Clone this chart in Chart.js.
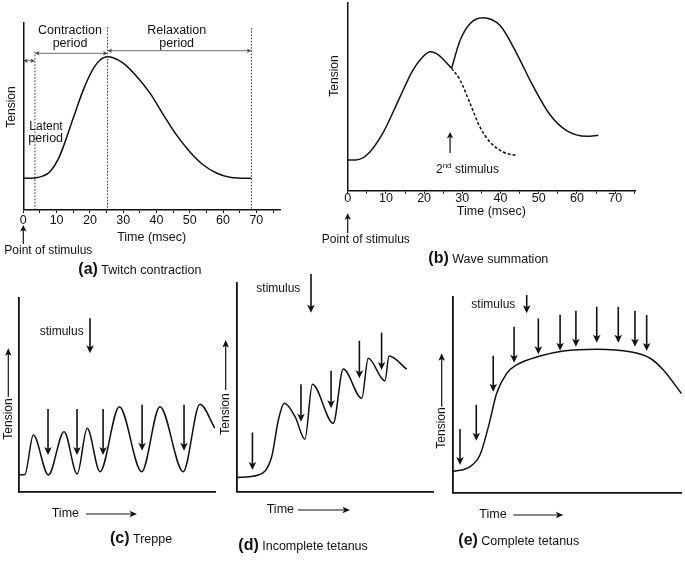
<!DOCTYPE html>
<html><head><meta charset="utf-8">
<script src="https://cdn.jsdelivr.net/npm/chart.js@4.4.1/dist/chart.umd.min.js"></script>
<style>
html,body{margin:0;padding:0;background:#fff;}
body{width:685px;height:561px;position:relative;overflow:hidden;}
canvas{position:absolute;}
</style></head><body>
<canvas id="pa" width="300" height="280" style="left:0px;top:0px"></canvas>
<canvas id="pb" width="385" height="275" style="left:300px;top:0px"></canvas>
<canvas id="pc" width="225" height="281" style="left:0px;top:280px"></canvas>
<canvas id="pd" width="223" height="296" style="left:212px;top:265px"></canvas>
<canvas id="pe" width="255" height="296" style="left:430px;top:265px"></canvas>
<script>
// ---------- data ----------
// (a) Twitch contraction  (time in msec, tension in arbitrary units 0-100)
const twitchTime    = [0, 3.5, 6, 8, 10.5, 12.5, 15, 18, 21, 23, 25.3, 27, 30, 34, 38, 42, 46, 50, 54, 58, 62, 65, 68.5];
const twitchTension = [16.7, 16.9, 18, 20.3, 27, 36, 49, 64, 75.5, 80, 81.9, 81.4, 78.5, 71.5, 62.5, 51, 40, 31, 24, 19.6, 17.3, 16.8, 16.7];
const periodBounds  = [0, 3.5, 25.3, 68.5];   // latent start, contraction start, peak, relaxation end
const timeTicks     = [0, 10, 20, 30, 40, 50, 60, 70];

// (b) Wave summation
const wave1Time     = [0, 2, 5, 9.2, 13.7, 17, 19.5, 21.7, 24, 25.9, 27.2];
const wave1Tension  = [16.4, 16.4, 19, 30.7, 50, 64, 71, 74, 72, 68, 65.2];
const wave2Time     = [27.2, 29.4, 32, 35.3, 39.9, 44.2, 48.6, 53, 57.3, 62.6, 65.6];
const wave2Tension  = [65.2, 80, 89, 92.2, 88, 73.2, 55.4, 40.3, 32, 29, 29.5];
const decayTime     = [27.2, 29.4, 32, 34.6, 37.2, 40.7, 44.2];
const decayTension  = [65.2, 59, 46.7, 34, 26, 20.6, 18.6];
const secondStimTime = 26.8, secondStimLevel = 31.3;

// (c) Treppe (arbitrary time 0-100)
const treppeTime     = [0, 3, 7.3, 15, 23, 29.7, 34.8, 41.3, 51.2, 62.6, 71.9, 83.8, 92.3, 100];
const treppeTension  = [8.8, 9, 29.4, 8.8, 31.1, 9.3, 32.8, 10.5, 44, 10.5, 44, 10.5, 45.2, 32.8];
const treppeStimTime = [14.8, 29.6, 42.9, 62.8, 84.2];
const treppeStimTip  = [19.1, 19.1, 19.1, 21.3, 21.3];

// (d) Incomplete tetanus
const incTime     = [0, 11, 17.8, 21.2, 24.2, 29.7, 34.7, 38.5, 49.1, 54.2, 63.6, 66.9, 75.4, 77.5, 86.5];
const incTension  = [6.8, 8, 16.7, 34.3, 42.3, 35.9, 25.1, 51.4, 32.7, 58.7, 44.7, 63.8, 53, 64.9, 58.6];
const incStimTime = [8, 32.7, 48, 62.4, 73.7];
const incStimTip  = [10.4, 33.5, 39.9, 54.3, 58.2];

// (e) Complete tetanus
const compTime     = [0, 7.6, 11.9, 15.6, 19.2, 23.6, 27.9, 38.1, 48.3, 62.9, 77.4, 86.2, 92, 100];
const compTension  = [10.7, 13.3, 19.2, 33.7, 50.7, 60.9, 65.2, 69.7, 72.3, 73.2, 71.9, 68.6, 62.6, 50.4];
const compStimTime = [3.2, 10.3, 17.7, 26.8, 37.4, 46.9, 53.8, 62.9, 72.3, 79.6, 84.7];
const compStimTip  = [14.1, 26.5, 51.5, 66.3, 70.6, 72.4, 74.5, 76.5, 76.5, 74.5, 72.3];

// ---------- style ----------
const FONT = '"Liberation Sans", Arial, Helvetica, sans-serif';
const INK = '#111';
Chart.defaults.font.family = FONT;
Chart.defaults.color = INK;
const F12 = '12px ' + FONT, F125 = '12.5px ' + FONT, FB = 'bold 16px ' + FONT;

function pts(xs, ys) { return xs.map((x, i) => ({x: x, y: ys[i]})); }

function head(ctx, x, y, ang, len, hw) {
  ctx.save(); ctx.translate(x, y); ctx.rotate(ang);
  ctx.beginPath(); ctx.moveTo(0, 0); ctx.lineTo(-len, -hw); ctx.lineTo(-len * 0.75, 0); ctx.lineTo(-len, hw);
  ctx.closePath(); ctx.fill(); ctx.restore();
}
function arrow(ctx, x1, y1, x2, y2, lw, len, hw) {
  const ang = Math.atan2(y2 - y1, x2 - x1);
  ctx.lineWidth = lw; ctx.beginPath(); ctx.moveTo(x1, y1);
  ctx.lineTo(x2 - Math.cos(ang) * len * 0.7, y2 - Math.sin(ang) * len * 0.7); ctx.stroke();
  head(ctx, x2, y2, ang, len, hw);
}
function dblArrow(ctx, x1, x2, y) {
  ctx.save(); ctx.strokeStyle = '#444'; ctx.fillStyle = '#444';
  ctx.lineWidth = 0.8; ctx.beginPath(); ctx.moveTo(x1 + 2, y); ctx.lineTo(x2 - 2, y); ctx.stroke();
  head(ctx, x2, y, 0, 4.5, 2.3); head(ctx, x1, y, Math.PI, 4.5, 2.3);
  ctx.restore();
}
function drawText(ctx, t) {
  const parts = t.parts || [{t: t.text, font: t.font || F12}];
  let total = 0;
  parts.forEach(p => { ctx.font = p.font || F12; p.w = ctx.measureText(p.t).width; total += p.w; });
  ctx.save(); ctx.translate(t.x, t.y); if (t.rot) ctx.rotate(t.rot);
  ctx.textBaseline = t.base || 'middle'; ctx.textAlign = 'left'; ctx.fillStyle = INK;
  let x = t.align === 'center' ? -total / 2 : 0;
  parts.forEach(p => { ctx.font = p.font || F12; ctx.fillText(p.t, x, p.dy || 0); x += p.w; });
  ctx.restore();
}

const ANN = {};
const annotPlugin = {
  id: 'annot',
  afterDraw(chart) {
    const a = ANN[chart.canvas.id]; if (!a) return;
    const ctx = chart.ctx, xs = chart.scales.x, ys = chart.scales.y;
    const X = v => xs.getPixelForValue(v), Y = v => ys.getPixelForValue(v);
    ctx.save(); ctx.fillStyle = INK; ctx.strokeStyle = INK;
    if (a.vlines) {
      ctx.save(); ctx.lineWidth = 1; ctx.strokeStyle = '#333'; ctx.setLineDash([1.6, 1.6]);
      a.vlines.times.forEach((t, i) => { const x = X(t); ctx.beginPath(); ctx.moveTo(x, a.vlines.tops[i]); ctx.lineTo(x, ys.bottom); ctx.stroke(); });
      ctx.restore();
    }
    if (a.spans) a.spans.forEach(s => dblArrow(ctx, X(s.t1), X(s.t2), s.y));
    if (a.stims) {
      const st = a.stims;
      st.times.forEach((t, i) => { const x = X(t), y = Y(st.tips[i]); arrow(ctx, x, st.up ? y + st.len : y - st.len, x, y, st.lw, st.head, st.hw); });
    }
    if (a.origin) { const x = X(0); arrow(ctx, x, a.origin[0], x, a.origin[1], 1.2, 6.5, 3.2); }
    (a.arrows || []).forEach(r => arrow(ctx, r[0], r[1], r[2], r[3], r[4], r[5], r[6]));
    (a.texts || []).forEach(t => drawText(ctx, t));
    ctx.restore();
  }
};

function makeChart(id, datasets, o) {
  return new Chart(document.getElementById(id), {
    type: 'line',
    data: { datasets: datasets },
    options: {
      responsive: false, animation: false, devicePixelRatio: 1, events: [],
      layout: { padding: o.pad },
      plugins: { legend: { display: false }, tooltip: { enabled: false } },
      scales: {
        x: {
          type: 'linear', position: 'bottom', min: 0, max: o.xmax,
          border: { display: true, color: INK, width: o.bw },
          grid: { display: !!o.ticks, drawOnChartArea: false, drawTicks: true, tickLength: o.tl || 4, color: INK, lineWidth: 1 },
          ticks: { display: !!o.ticks, stepSize: 5, autoSkip: false, maxRotation: 0, includeBounds: false, padding: o.tp || 0,
                   color: INK, font: { size: 12.5 },
                   callback: v => (timeTicks.indexOf(Math.round(v)) >= 0 && Math.abs(v - Math.round(v)) < 1e-6) ? String(Math.round(v)) : '' },
          title: o.xtitle ? { display: true, text: o.xtitle, color: INK, font: { size: 12.5 }, padding: 0 } : { display: false },
          afterFit: s => { s.height = o.xh; }
        },
        y: {
          type: 'linear', min: 0, max: 100,
          border: { display: true, color: INK, width: o.bw },
          grid: { display: false }, ticks: { display: false },
          afterFit: s => { s.width = o.yw; }
        }
      }
    },
    plugins: [annotPlugin]
  });
}
function line(xs, ys, dash) {
  return { data: pts(xs, ys), borderColor: INK, borderWidth: 1.5, pointRadius: 0, fill: false,
           cubicInterpolationMode: 'monotone', borderDash: dash || [] };
}

// ---------- (a) ----------
ANN.pa = {
  vlines: { times: periodBounds.slice(1), tops: [51.5, 27, 28] },
  spans: [ { t1: periodBounds[0], t2: periodBounds[1], y: 60.7 },
           { t1: periodBounds[1], t2: periodBounds[2], y: 53.3 },
           { t1: periodBounds[2], t2: periodBounds[3], y: 50.7 } ],
  origin: [244, 225],
  texts: [
    { text: 'Contraction', x: 70, y: 31, align: 'center', font: F125 },
    { text: 'period', x: 70, y: 43.3, align: 'center', font: F125 },
    { text: 'Relaxation', x: 176.7, y: 31, align: 'center', font: F125 },
    { text: 'period', x: 176.7, y: 43.3, align: 'center', font: F125 },
    { text: 'Latent', x: 29.3, y: 126.7 },
    { text: 'period', x: 28.3, y: 138.3, font: F125 },
    { text: 'Tension', x: 11.7, y: 107, align: 'center', rot: -Math.PI / 2 },
    { text: 'Point of stimulus', x: 48.3, y: 250.7, align: 'center' },
    { parts: [ { t: '(a)', font: FB }, { t: ' Twitch contraction', font: F125 } ], x: 78.3, y: 273.5, base: 'alphabetic' }
  ]
};
makeChart('pa', [ line(twitchTime, twitchTension) ],
  { pad: { top: 23, right: 20, bottom: 35.2, left: 0 }, xmax: 77.1, xh: 35.3, yw: 23.3, bw: 1.5, ticks: true, tl: 3.5, tp: 0.5, xtitle: 'Time (msec)' });

// ---------- (b) ----------
ANN.pb = {
  stims: { times: [secondStimTime], tips: [secondStimLevel], len: 21, up: true, lw: 1.2, head: 6.5, hw: 3.2 },
  origin: [233.3, 213.3],
  texts: [
    { text: 'Tension', x: 35, y: 76, align: 'center', rot: -Math.PI / 2 },
    { parts: [ { t: '2', font: F12 }, { t: 'nd', font: '8px ' + FONT, dy: -5 }, { t: ' stimulus', font: F12 } ], x: 136, y: 172.7, base: 'alphabetic' },
    { text: 'Point of stimulus', x: 65.8, y: 240, align: 'center' },
    { parts: [ { t: '(b)', font: FB }, { t: ' Wave summation', font: F125 } ], x: 128.3, y: 263.3, base: 'alphabetic' }
  ]
};
makeChart('pb', [ line(wave1Time, wave1Tension), line(wave2Time, wave2Tension), line(decayTime, decayTension, [3, 2]) ],
  { pad: { top: 3, right: 50, bottom: 55.8, left: 0 }, xmax: 75.2, xh: 28.5, yw: 47.7, bw: 1.5, ticks: true, tl: 3, tp: -3, xtitle: 'Time (msec)' });

// ---------- (c) ----------
ANN.pc = {
  stims: { times: treppeStimTime, tips: treppeStimTip, len: 46, lw: 1.6, head: 8, hw: 3.8 },
  arrows: [ [90, 38.3, 90, 73.3, 1.6, 8, 3.8], [8.3, 116.7, 8.3, 68.3, 1.2, 7.5, 3.3], [86, 234, 137, 234, 1.2, 7.5, 3.3] ],
  texts: [
    { text: 'stimulus', x: 61.7, y: 51.7, align: 'center' },
    { text: 'Tension', x: 8.3, y: 139, align: 'center', rot: -Math.PI / 2 },
    { text: 'Time', x: 51.7, y: 234, font: F125 },
    { parts: [ { t: '(c)', font: FB }, { t: ' Treppe', font: F125 } ], x: 110, y: 262.5, base: 'alphabetic' }
  ]
};
makeChart('pc', [ line(treppeTime, treppeTension) ],
  { pad: { top: 18, right: 10, bottom: 59, left: 0 }, xmax: 100, xh: 10, yw: 19, bw: 1.8, ticks: false });

// ---------- (d) ----------
ANN.pd = {
  stims: { times: incStimTime, tips: incStimTip, len: 37.5, lw: 1.6, head: 8, hw: 3.8 },
  arrows: [ [99, 9, 99, 47.7, 1.6, 8, 3.8], [13.7, 125, 13.7, 75, 1.2, 7.5, 3.3], [85.7, 245, 138, 245, 1.2, 7.5, 3.3] ],
  texts: [
    { text: 'stimulus', x: 66.3, y: 24, align: 'center' },
    { text: 'Tension', x: 13.7, y: 149, align: 'center', rot: -Math.PI / 2 },
    { text: 'Time', x: 54.7, y: 245, font: F125 },
    { parts: [ { t: '(d)', font: FB }, { t: ' Incomplete tetanus', font: F125 } ], x: 26.3, y: 285, base: 'alphabetic' }
  ]
};
makeChart('pd', [ line(incTime, incTension) ],
  { pad: { top: 17.7, right: 1.7, bottom: 59.3, left: 0 }, xmax: 100, xh: 10, yw: 24.7, bw: 1.8, ticks: false });

// ---------- (e) ----------
ANN.pe = {
  stims: { times: compStimTime, tips: compStimTip, len: 36, lw: 1.6, head: 8, hw: 3.8 },
  arrows: [ [96.7, 30, 96.7, 48.3, 1.6, 8, 3.8], [11.7, 141.7, 11.7, 88.3, 1.2, 7.5, 3.3], [83.3, 250, 133.3, 250, 1.2, 7.5, 3.3] ],
  texts: [
    { text: 'stimulus', x: 63.3, y: 39.3, align: 'center' },
    { text: 'Tension', x: 11.7, y: 163, align: 'center', rot: -Math.PI / 2 },
    { text: 'Time', x: 49.3, y: 250, font: F125 },
    { parts: [ { t: '(e)', font: FB }, { t: ' Complete tetanus', font: F125 } ], x: 28.3, y: 280, base: 'alphabetic' }
  ]
};
makeChart('pe', [ line(compTime, compTension) ],
  { pad: { top: 31.7, right: 3.3, bottom: 58.3, left: 0 }, xmax: 100, xh: 10, yw: 22.7, bw: 1.8, ticks: false });
</script>
</body></html>
